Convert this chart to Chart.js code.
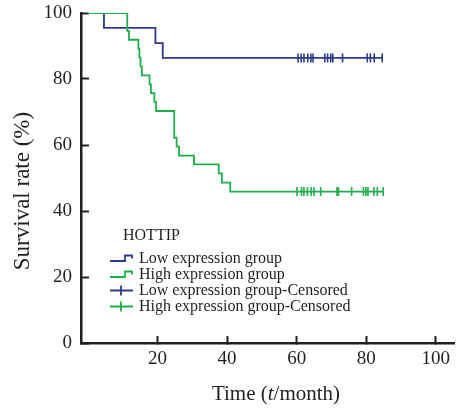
<!DOCTYPE html>
<html>
<head>
<meta charset="utf-8">
<title>HOTTIP survival</title>
<script src="https://cdn.jsdelivr.net/npm/chart.js"></script>
<style>
  html, body { margin: 0; padding: 0; background: #fff; }
</style>
</head>
<body>
<canvas id="kmChart" width="461" height="408"></canvas>

<script>
  // Kaplan-Meier steps (time in months, survival in %)
  const lowTime = [0, 4.6, 19.4, 21.5, 84.6];
  const lowSurv = [100, 95.5, 90.9, 86.4, 86.4];
  const highTime = [0, 11.3, 11.8, 14.5, 14.8, 15.1, 15.5, 17.7, 18.1, 19.1, 19.6, 24.8, 25.5, 26.2, 30.5, 37.6, 38.5, 40.9, 84.9];
  const highSurv = [100, 94.6, 91.9, 89.2, 86.5, 83.8, 81.1, 78.4, 75.7, 73.0, 70.3, 62.2, 59.5, 56.8, 54.1, 51.4, 48.6, 45.9, 45.9];

  // censored observations (time only, they sit on the curve)
  const lowCensorTime = [60.4, 61.3, 62.1, 63.2, 64.1, 64.7, 68.1, 68.9, 69.8, 70.4, 73.2, 80.3, 81.2, 82.3, 84.6];
  const highCensorTime = [60.1, 61.4, 62.1, 63.1, 64.2, 65.0, 66.9, 71.6, 72.0, 75.8, 79.2, 79.9, 80.5, 82.2, 83.2, 84.9];

  const xTicks = [20, 40, 60, 80, 100];
  const yTicks = [0, 20, 40, 60, 80, 100];

  const legendTitle = 'HOTTIP';
  const yTitle = 'Survival rate (%)';

  const blue = '#2b3a8f';
  const green = '#1fae4c';
  const ink = '#231f20';
  const serif = "'Liberation Serif', 'Times New Roman', serif";

  // value of a step curve at time t
  function survAt(times, surv, t) {
    let v = surv[0];
    for (let i = 0; i < times.length; i++) {
      if (times[i] <= t) v = surv[i];
    }
    return v;
  }

  const toPoints = (xs, ys) => xs.map((x, i) => ({ x: x, y: ys[i] }));
  const censorPoints = (cs, xs, ys) => cs.map(t => ({ x: t, y: survAt(xs, ys, t) }));

  // legend, axis titles (x title has an italic t)
  const decor = {
    id: 'decor',
    afterDraw(chart) {
      const ctx = chart.ctx;
      ctx.save();
      ctx.fillStyle = ink;
      ctx.textBaseline = 'alphabetic';

      // y title
      ctx.save();
      ctx.font = '23px ' + serif;
      ctx.translate(29, 191);
      ctx.rotate(-Math.PI / 2);
      ctx.textAlign = 'center';
      ctx.fillText(yTitle, 0, 0);
      ctx.restore();

      // x title: "Time (t/month)"
      const parts = [['Time (', ''], ['t', 'italic '], ['/month)', '']];
      let total = 0;
      parts.forEach(p => { ctx.font = p[1] + '21px ' + serif; total += ctx.measureText(p[0]).width; });
      let x = 276 - total / 2;
      ctx.textAlign = 'left';
      parts.forEach(p => {
        ctx.font = p[1] + '21px ' + serif;
        ctx.fillText(p[0], x, 400);
        x += ctx.measureText(p[0]).width;
      });

      // legend
      ctx.font = '16px ' + serif;
      ctx.fillText(legendTitle, 123, 240);
      const rows = [262.5, 278.5, 294.5, 310.5];
      chart.data.datasets.forEach((ds, i) => {
        const yb = rows[i];
        const yc = yb - 4;
        ctx.strokeStyle = ds.borderColor;
        ctx.lineWidth = 1.8;
        ctx.beginPath();
        if (ds.kmKind === 'step') {
          ctx.moveTo(110, yc + 2.5);
          ctx.lineTo(125, yc + 2.5);
          ctx.lineTo(125, yc - 3);
          ctx.lineTo(132, yc - 3);
          ctx.lineTo(132, yc);
        } else {
          ctx.moveTo(110, yc);
          ctx.lineTo(133, yc);
          ctx.moveTo(121, yc - 5);
          ctx.lineTo(121, yc + 5);
        }
        ctx.stroke();
        ctx.fillStyle = ink;
        ctx.fillText(ds.label, 139, yb);
      });
      ctx.restore();
    }
  };

  const ctx = document.getElementById('kmChart').getContext('2d');
  new Chart(ctx, {
    type: 'line',
    data: {
      datasets: [
        {
          label: 'Low expression group',
          kmKind: 'step',
          data: toPoints(lowTime, lowSurv),
          stepped: 'before',
          borderColor: blue,
          borderWidth: 1.8,
          pointRadius: 0,
          fill: false,
          order: 2
        },
        {
          label: 'High expression group',
          kmKind: 'step',
          data: toPoints(highTime, highSurv),
          stepped: 'before',
          borderColor: green,
          borderWidth: 1.8,
          pointRadius: 0,
          fill: false,
          order: 1
        },
        {
          label: 'Low expression group-Censored',
          kmKind: 'censor',
          data: censorPoints(lowCensorTime, lowTime, lowSurv),
          showLine: false,
          borderColor: blue,
          pointStyle: 'line',
          pointRotation: 90,
          pointRadius: 4.5,
          pointBorderWidth: 1.6,
          pointBorderColor: blue,
          order: 0
        },
        {
          label: 'High expression group-Censored',
          kmKind: 'censor',
          data: censorPoints(highCensorTime, highTime, highSurv),
          showLine: false,
          borderColor: green,
          pointStyle: 'line',
          pointRotation: 90,
          pointRadius: 4.5,
          pointBorderWidth: 1.6,
          pointBorderColor: green,
          order: 0
        }
      ]
    },
    options: {
      responsive: false,
      animation: false,
      layout: { padding: { top: 13, right: 0, left: 0, bottom: 0 } },
      plugins: {
        legend: { display: false },
        tooltip: { enabled: false }
      },
      scales: {
        x: {
          type: 'linear',
          min: -2,
          max: 105.5,
          afterBuildTicks: s => { s.ticks = xTicks.map(v => ({ value: v })); },
          afterFit: s => { s.height = 65; s.paddingLeft = 0; s.paddingRight = 0; },
          grid: { drawOnChartArea: false, drawTicks: true, tickLength: -7, tickWidth: 2, color: ink },
          border: { color: ink, width: 2.5 },
          ticks: { font: { family: serif, size: 19 }, color: ink, padding: 12, maxRotation: 0, autoSkip: false }
        },
        y: {
          min: 0,
          max: 100,
          afterBuildTicks: s => { s.ticks = yTicks.map(v => ({ value: v })); },
          afterFit: s => { s.width = 81; s.paddingTop = 0; s.paddingBottom = 0; },
          grid: { drawOnChartArea: false, drawTicks: true, tickLength: -8, tickWidth: 2, color: ink },
          border: { color: ink, width: 2.5 },
          ticks: { font: { family: serif, size: 19 }, color: ink, padding: 17 }
        }
      }
    },
    plugins: [decor]
  });
</script>
</body>
</html>
